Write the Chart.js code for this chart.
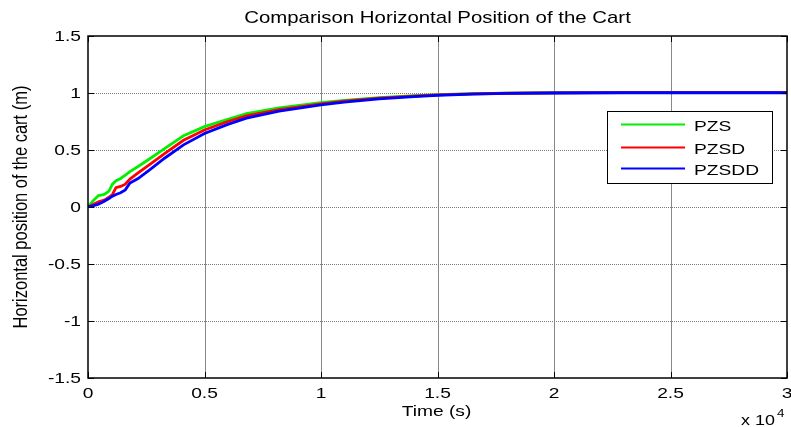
<!DOCTYPE html>
<html><head><meta charset="utf-8">
<script src="https://cdn.jsdelivr.net/npm/chart.js@4"></script>
<style>html,body{margin:0;padding:0;background:#fff;overflow:hidden}#wrap{width:791px;height:427px}</style>
</head><body>
<div id="wrap"><canvas id="c" width="791" height="427"></canvas></div>
<script>
// ---- data (time in units of 1e4 s) ----
const timeTicks = [0, 0.5, 1, 1.5, 2, 2.5, 3];
const posTicks = [-1.5, -1, -0.5, 0, 0.5, 1, 1.5];
const time  = [0, 0.02, 0.045, 0.07, 0.09, 0.105, 0.12, 0.14, 0.16, 0.18, 0.215, 0.27, 0.33, 0.41, 0.5, 0.6, 0.68, 0.82, 1.0, 1.1, 1.25, 1.4, 1.5, 1.65, 1.8, 2.0, 2.3, 2.5, 3.0];
const pzs   = [0, 0.05, 0.10, 0.11, 0.14, 0.20, 0.23, 0.25, 0.28, 0.31, 0.355, 0.43, 0.515, 0.625, 0.705, 0.77, 0.82, 0.87, 0.915, 0.935, 0.96, 0.977, 0.986, 0.994, 0.999, 1.002, 1.006, 1.006, 1.006];
const pzsd  = [0, 0.02, 0.045, 0.06, 0.085, 0.11, 0.17, 0.18, 0.20, 0.245, 0.30, 0.38, 0.47, 0.585, 0.675, 0.75, 0.80, 0.855, 0.905, 0.928, 0.955, 0.973, 0.983, 0.992, 0.998, 1.001, 1.004, 1.004, 1.004];
const pzsdd = [0, 0.01, 0.025, 0.05, 0.075, 0.095, 0.11, 0.125, 0.15, 0.21, 0.25, 0.335, 0.43, 0.545, 0.645, 0.725, 0.78, 0.84, 0.895, 0.92, 0.948, 0.968, 0.979, 0.99, 0.997, 1.0, 1.002, 1.002, 1.002];
const seriesNames  = ['PZS', 'PZSD', 'PZSDD'];
const seriesValues = [pzs, pzsd, pzsdd];
const seriesColors = ['#00f000', '#ff0000', '#0000ff'];
const titleText = 'Comparison Horizontal Position of the Cart';
const xTitle = 'Time (s)';
const yTitle = 'Horizontal position of the cart (m)';

const FONT = '"Liberation Sans", Arial, sans-serif';
const SX = 1.28;

function sText(ctx, text, x, y, size, align, base, sx) {
  ctx.save();
  ctx.font = size + 'px ' + FONT;
  ctx.fillStyle = '#000';
  ctx.textAlign = align;
  ctx.textBaseline = base;
  ctx.translate(x, y);
  ctx.scale(sx || SX, 1);
  ctx.fillText(text, 0, 0);
  ctx.restore();
}

const decor = {
  id: 'decor',
  beforeDatasetsDraw(chart) {
    const ctx = chart.ctx, a = chart.chartArea;
    const xs = chart.scales.x, ys = chart.scales.y;
    ctx.save();
    ctx.lineWidth = 1;
    ctx.strokeStyle = '#888888';
    xs.ticks.forEach(t => {
      if (t.value <= xs.min || t.value >= xs.max) return;
      const px = Math.round(xs.getPixelForValue(t.value)) + 0.5;
      ctx.beginPath(); ctx.moveTo(px, a.top); ctx.lineTo(px, a.bottom); ctx.stroke();
    });
    ctx.strokeStyle = '#7a7a7a';
    ctx.setLineDash([1, 1]);
    ys.ticks.forEach(t => {
      if (t.value <= ys.min || t.value >= ys.max) return;
      const py = Math.round(ys.getPixelForValue(t.value)) + 0.5;
      ctx.beginPath(); ctx.moveTo(a.left, py); ctx.lineTo(a.right, py); ctx.stroke();
    });
    ctx.restore();
  },
  afterDatasetsDraw(chart) {
    const ctx = chart.ctx, a = chart.chartArea;
    const xs = chart.scales.x, ys = chart.scales.y;
    ctx.save();
    ctx.strokeStyle = '#000';
    ctx.lineWidth = 1.5;
    ctx.strokeRect(a.left, a.top, a.right - a.left, a.bottom - a.top);
    ctx.lineWidth = 1;
    const TL = 6;
    xs.ticks.forEach(t => {
      const px = Math.round(xs.getPixelForValue(t.value)) + 0.5;
      ctx.beginPath();
      ctx.moveTo(px, a.bottom); ctx.lineTo(px, a.bottom - TL);
      ctx.moveTo(px, a.top); ctx.lineTo(px, a.top + TL);
      ctx.stroke();
    });
    ys.ticks.forEach(t => {
      const py = Math.round(ys.getPixelForValue(t.value)) + 0.5;
      ctx.beginPath();
      ctx.moveTo(a.left, py); ctx.lineTo(a.left + TL, py);
      ctx.moveTo(a.right, py); ctx.lineTo(a.right - TL, py);
      ctx.stroke();
    });
    ctx.restore();
    xs.ticks.forEach(t => {
      sText(ctx, String(t.value), xs.getPixelForValue(t.value), 394, 15, 'center', 'middle');
    });
    ys.ticks.forEach(t => {
      sText(ctx, String(t.value), 81, ys.getPixelForValue(t.value) + 0.5, 15, 'right', 'middle');
    });
    // legend
    ctx.save();
    const lx = 607.5, ly = 111.5, lw = 165, lh = 72;
    ctx.fillStyle = '#fff';
    ctx.fillRect(lx, ly, lw, lh);
    ctx.strokeStyle = '#000';
    ctx.lineWidth = 1;
    ctx.strokeRect(lx, ly, lw, lh);
    const rows = [124.5, 147.5, 168.5];
    chart.data.datasets.forEach(ds => {
      const idx = seriesNames.indexOf(ds.label);
      ctx.strokeStyle = ds.borderColor;
      ctx.lineWidth = 2;
      ctx.beginPath(); ctx.moveTo(621, rows[idx]); ctx.lineTo(685, rows[idx]); ctx.stroke();
      sText(ctx, ds.label, 694, rows[idx] + 2, 15, 'left', 'middle');
    });
    ctx.restore();
  },
  afterDraw(chart) {
    const ctx = chart.ctx, a = chart.chartArea;
    sText(ctx, titleText, (a.left + a.right) / 2, 18, 17, 'center', 'middle', 1.2);
    sText(ctx, xTitle, 436.5, 412, 15, 'center', 'middle');
    ctx.save();
    ctx.font = '16.5px ' + FONT;
    ctx.fillStyle = '#000';
    ctx.textAlign = 'center';
    ctx.textBaseline = 'middle';
    ctx.translate(21, (a.top + a.bottom) / 2);
    ctx.rotate(-Math.PI / 2);
    ctx.scale(1, 1.25);
    ctx.fillText(yTitle, 0, 0);
    ctx.restore();
    sText(ctx, 'x 10', 741, 421, 14, 'left', 'middle');
    sText(ctx, '4', 777, 414, 10.5, 'left', 'middle');
  }
};

const datasets = seriesNames.map((name, i) => ({
  label: name,
  data: time.map((t, k) => ({ x: t, y: seriesValues[i][k] })),
  borderColor: seriesColors[i],
  borderWidth: 2.8,
  pointRadius: 0,
  fill: false,
  tension: 0,
  order: 2 - i
}));

new Chart(document.getElementById('c'), {
  type: 'line',
  data: { datasets },
  options: {
    responsive: false,
    animation: false,
    events: [],
    layout: { padding: { top: 36, right: 4, left: 0, bottom: 0 } },
    plugins: { legend: { display: false }, tooltip: { enabled: false }, title: { display: false } },
    scales: {
      x: {
        type: 'linear', min: 0, max: 3,
        afterBuildTicks: s => { s.ticks = timeTicks.map(v => ({ value: v })); },
        afterFit: s => { s.height = 49; },
        ticks: { display: false },
        grid: { display: false },
        border: { display: false }
      },
      y: {
        type: 'linear', min: -1.5, max: 1.5,
        afterBuildTicks: s => { s.ticks = posTicks.map(v => ({ value: v })); },
        afterFit: s => { s.width = 88; },
        ticks: { display: false },
        grid: { display: false },
        border: { display: false }
      }
    }
  },
  plugins: [decor]
});
</script>
</body></html>
